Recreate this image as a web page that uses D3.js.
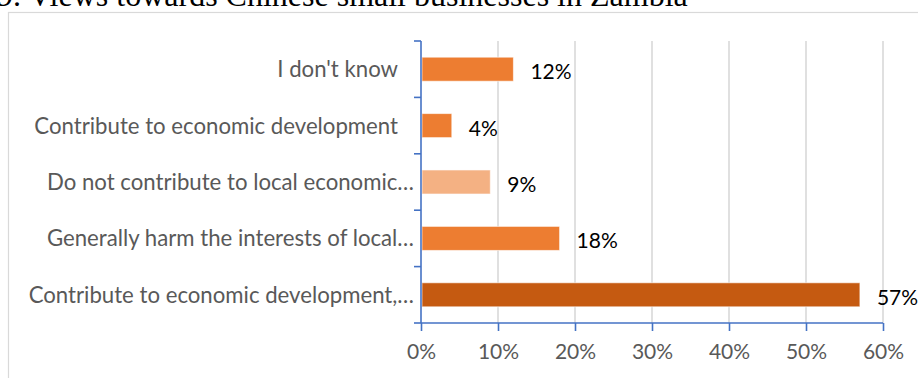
<!DOCTYPE html>
<html>
<head>
<meta charset="utf-8">
<script src="https://cdn.jsdelivr.net/npm/d3@7"></script>
<style>
  html, body { margin: 0; padding: 0; background: #fff; }
  svg { display: block; }
</style>
</head>
<body>
<svg id="chart" width="918" height="378"></svg>
<script>
// Survey answers, listed top to bottom as they appear on the chart
const categories = [
  "I don't know",
  "Contribute to economic development",
  "Do not contribute to local economic…",
  "Generally harm the interests of local…",
  "Contribute to economic development,…"
];
const shares = [0.12, 0.04, 0.09, 0.18, 0.57];
const xTicks = [0, 0.1, 0.2, 0.3, 0.4, 0.5, 0.6];
const barFills = ["#ED7D31", "#ED7D31", "#F4B183", "#ED7D31", "#C55A11"];

const titleText = "9. Views towards Chinese small businesses in Zambia";

const svg = d3.select("#chart");
const W = 918, H = 378;
const plot = { left: 421, right: 883, top: 41, bottom: 323 };
const sansFont = "Lato, 'Open Sans', sans-serif";

// Title sits above the chart frame
svg.append("text")
  .attr("x", -3)
  .attr("y", 5.5)
  .attr("font-family", "'Liberation Serif', 'Times New Roman', serif")
  .attr("font-size", 32)
  .attr("fill", "#000")
  .text(titleText);

// Chart frame
svg.append("rect")
  .attr("x", 8.5)
  .attr("y", 12.5)
  .attr("width", W)
  .attr("height", H)
  .attr("fill", "none")
  .attr("stroke", "#D9D9D9")
  .attr("stroke-width", 1.2);

const x = d3.scaleLinear().domain([0, 0.6]).range([plot.left, plot.right]);
const y = d3.scaleBand()
  .domain(categories)
  .range([plot.top, plot.bottom])
  .paddingInner(0.574)
  .paddingOuter(0.287);

// Vertical gridlines
svg.append("g")
  .selectAll("line")
  .data(xTicks.filter(t => t > 0))
  .join("line")
  .attr("x1", d => x(d)).attr("x2", d => x(d))
  .attr("y1", plot.top).attr("y2", plot.bottom)
  .attr("stroke", "#D9D9D9")
  .attr("stroke-width", 1.6);

// Bars
svg.append("g")
  .selectAll("rect")
  .data(shares)
  .join("rect")
  .attr("x", x(0) + 1)
  .attr("y", (d, i) => y(categories[i]))
  .attr("width", d => x(d) - x(0) - 1)
  .attr("height", y.bandwidth())
  .attr("fill", (d, i) => barFills[i])
  .attr("stroke", "#fff")
  .attr("stroke-opacity", 0.6)
  .attr("stroke-width", 1);

// Value labels
const pct = d3.format(".0%");
svg.append("g")
  .selectAll("text")
  .data(shares)
  .join("text")
  .attr("x", d => x(d) + 17)
  .attr("y", (d, i) => y(categories[i]) + y.bandwidth() / 2 + 1.5)
  .attr("dominant-baseline", "central")
  .attr("font-family", sansFont)
  .attr("font-size", 21)
  .attr("fill", "#000")
  .text(d => pct(d));

// Category axis (left)
const yAxis = svg.append("g")
  .attr("transform", `translate(${plot.left},0)`);
yAxis.append("line")
  .attr("x1", 0).attr("x2", 0)
  .attr("y1", plot.top).attr("y2", plot.bottom)
  .attr("stroke", "#4472C4").attr("stroke-width", 1.6);
const bounds = categories.map(c => y(c) - y.step() * y.paddingInner() / 2)
  .concat([plot.bottom]);
yAxis.selectAll("line.tick")
  .data(bounds)
  .join("line")
  .attr("class", "tick")
  .attr("x1", -7).attr("x2", 0)
  .attr("y1", d => d).attr("y2", d => d)
  .attr("stroke", "#4472C4").attr("stroke-width", 1.6);
yAxis.selectAll("text")
  .data(categories)
  .join("text")
  .attr("x", d => d.endsWith("…") ? -7 : -23)
  .attr("y", d => y(d) + y.bandwidth() / 2 - 0.5)
  .attr("dominant-baseline", "central")
  .attr("text-anchor", "end")
  .attr("font-family", sansFont)
  .attr("font-size", 22.2)
  .attr("fill", "#595959")
  .text(d => d);

// Value axis (bottom)
const xAxis = d3.axisBottom(x)
  .tickValues(xTicks)
  .tickFormat(d3.format(".0%"))
  .tickSize(8)
  .tickPadding(13);
const gx = svg.append("g")
  .attr("transform", `translate(0,${plot.bottom})`)
  .call(xAxis);
gx.select(".domain").attr("stroke", "#4472C4").attr("stroke-width", 1.6)
  .attr("d", `M${plot.left},0H${plot.right}`);
gx.selectAll(".tick line").attr("stroke", "#4472C4").attr("stroke-width", 1.6);
gx.selectAll(".tick text")
  .attr("font-family", sansFont)
  .attr("font-size", 21)
  .attr("fill", "#595959");
</script>
</body>
</html>
